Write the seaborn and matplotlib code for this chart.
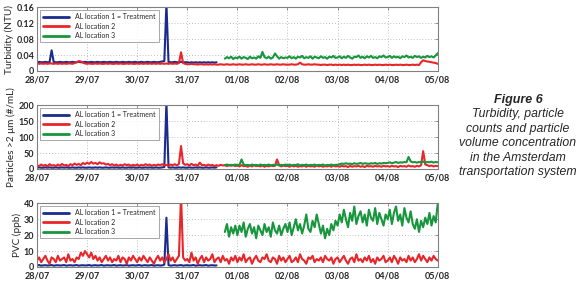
import pandas as pd
import seaborn as sns
import matplotlib.pyplot as plt
import matplotlib.dates as mdates

# hourly readings, rows are one day (24 h) each
START = pd.Timestamp("2009-07-28")
BLUE_START, RED_START, GREEN_START = 0, 0, 90   # first hour of each series

labels = ["AL location 1 = Treatment", "AL location 2", "AL location 3"]
colors = ["#1b2b8c", "#e8262a", "#17963d"]

# --- turbidity (NTU) ---
tur_blue = ([0.022, 0.023, 0.022, 0.022, 0.023, 0.022, 0.022, 0.052, 0.023, 0.022, 0.022, 0.023, 0.022, 0.022, 0.023, 0.022, 0.022, 0.023, 0.022, 0.022, 0.023, 0.022, 0.022, 0.023]
            + [0.022, 0.022, 0.023, 0.022, 0.022, 0.023, 0.022, 0.022, 0.023, 0.022, 0.022, 0.023, 0.022, 0.022, 0.023, 0.022, 0.022, 0.023, 0.022, 0.022, 0.023, 0.022, 0.022, 0.023]
            + [0.022, 0.022, 0.023, 0.022, 0.022, 0.023, 0.022, 0.022, 0.023, 0.022, 0.022, 0.023, 0.024, 0.025, 0.170, 0.023, 0.022, 0.022, 0.023, 0.022, 0.022, 0.023, 0.022, 0.022]
            + [0.022, 0.021, 0.022, 0.021, 0.022, 0.021, 0.022, 0.021, 0.022, 0.021, 0.022, 0.021, 0.022, 0.021, 0.022])
tur_red = ([0.019, 0.018, 0.019, 0.018, 0.019, 0.018, 0.019, 0.019, 0.018, 0.019, 0.018, 0.019, 0.018, 0.019, 0.018, 0.019, 0.019, 0.018, 0.020, 0.022, 0.025, 0.024, 0.021, 0.019]
           + [0.018, 0.019, 0.018, 0.018, 0.019, 0.018, 0.019, 0.018, 0.018, 0.019, 0.018, 0.019, 0.018, 0.018, 0.019, 0.018, 0.019, 0.018, 0.018, 0.019, 0.018, 0.019, 0.018, 0.018]
           + [0.019, 0.018, 0.019, 0.018, 0.019, 0.018, 0.019, 0.018, 0.019, 0.018, 0.019, 0.018, 0.019, 0.018, 0.019, 0.018, 0.019, 0.018, 0.019, 0.018, 0.020, 0.047, 0.020, 0.018]
           + [0.017, 0.017, 0.018, 0.017, 0.017, 0.016, 0.017, 0.017, 0.016, 0.017, 0.016, 0.017, 0.016, 0.017, 0.016, 0.016, 0.017, 0.016, 0.016, 0.017, 0.016, 0.016, 0.017, 0.016]
           + [0.016, 0.017, 0.016, 0.016, 0.017, 0.016, 0.016, 0.017, 0.016, 0.016, 0.017, 0.016, 0.016, 0.017, 0.016, 0.016, 0.017, 0.016, 0.016, 0.017, 0.016, 0.016, 0.017, 0.016]
           + [0.016, 0.016, 0.017, 0.016, 0.016, 0.017, 0.021, 0.017, 0.016, 0.016, 0.017, 0.016, 0.016, 0.017, 0.016, 0.016, 0.015, 0.016, 0.016, 0.015, 0.016, 0.016, 0.015, 0.016]
           + [0.015, 0.016, 0.015, 0.016, 0.015, 0.016, 0.015, 0.015, 0.016, 0.015, 0.016, 0.015, 0.015, 0.016, 0.015, 0.016, 0.015, 0.015, 0.016, 0.015, 0.016, 0.015, 0.015, 0.016]
           + [0.015, 0.016, 0.015, 0.015, 0.016, 0.015, 0.016, 0.015, 0.015, 0.016, 0.015, 0.015, 0.016, 0.015, 0.016, 0.015, 0.022, 0.027, 0.025, 0.024, 0.023, 0.022, 0.021, 0.020]
           + [0.018])
tur_green = ([0.031, 0.035, 0.032, 0.036, 0.030, 0.034]
             + [0.032, 0.036, 0.031, 0.035, 0.033, 0.030, 0.036, 0.032, 0.034, 0.031, 0.037, 0.033, 0.048, 0.035, 0.032, 0.036, 0.031, 0.034, 0.044, 0.037, 0.031, 0.035, 0.032, 0.034]
             + [0.033, 0.037, 0.032, 0.035, 0.031, 0.036, 0.034, 0.038, 0.032, 0.035, 0.033, 0.037, 0.031, 0.036, 0.034, 0.032, 0.037, 0.033, 0.035, 0.031, 0.036, 0.034, 0.038, 0.033]
             + [0.034, 0.037, 0.032, 0.036, 0.033, 0.038, 0.034, 0.031, 0.036, 0.035, 0.039, 0.033, 0.036, 0.032, 0.037, 0.034, 0.038, 0.033, 0.035, 0.032, 0.037, 0.035, 0.039, 0.034]
             + [0.035, 0.038, 0.033, 0.037, 0.034, 0.036, 0.032, 0.037, 0.035, 0.039, 0.034, 0.036, 0.033, 0.038, 0.035, 0.037, 0.033, 0.036, 0.034, 0.038, 0.035, 0.037, 0.034, 0.039]
             + [0.045])

# --- particles > 2 um (#/mL) ---
par_blue = ([4, 5, 4, 4, 5, 4, 5, 4, 4, 5, 4, 4, 5, 4, 5, 4, 4, 5, 4, 4, 5, 4, 5, 4]
            + [4, 5, 4, 4, 5, 4, 5, 4, 4, 5, 4, 4, 5, 4, 5, 4, 4, 5, 4, 4, 5, 4, 5, 4]
            + [4, 5, 4, 4, 5, 4, 5, 4, 4, 5, 4, 4, 5, 6, 210, 5, 4, 5, 4, 4, 5, 4, 5, 4]
            + [4, 5, 4, 4, 5, 4, 5, 4, 4, 5, 4, 4, 5, 4, 5])
par_red = ([12, 9, 14, 10, 13, 8, 15, 11, 12, 9, 14, 10, 16, 11, 13, 9, 15, 12, 17, 13, 16, 12, 19, 15]
           + [20, 16, 22, 17, 19, 15, 21, 17, 18, 14, 16, 12, 15, 11, 14, 10, 13, 11, 15, 12, 14, 10, 13, 11]
           + [14, 10, 13, 11, 15, 12, 14, 10, 13, 11, 14, 12, 15, 11, 13, 10, 14, 12, 15, 11, 16, 72, 18, 13]
           + [15, 11, 16, 12, 14, 10, 20, 12, 13, 10, 14, 11, 13, 9, 12, 10, 13, 11, 12, 9, 13, 10, 12, 9]
           + [11, 8, 12, 9, 10, 7, 11, 8, 12, 9, 10, 8, 11, 7, 10, 8, 11, 9, 10, 30, 12, 8, 11, 9]
           + [10, 7, 11, 8, 10, 7, 9, 8, 11, 7, 10, 8, 9, 7, 11, 8, 10, 7, 9, 8, 10, 7, 11, 8]
           + [9, 7, 10, 8, 9, 6, 10, 7, 9, 8, 10, 7, 9, 6, 10, 8, 9, 7, 10, 8, 9, 7, 10, 8]
           + [9, 7, 10, 8, 9, 6, 10, 8, 9, 7, 11, 8, 9, 7, 10, 8, 12, 56, 14, 12, 9, 11, 8, 10]
           + [9])
par_green = ([12, 14, 11, 13, 12, 14]
             + [12, 13, 30, 14, 12, 13, 11, 14, 12, 13, 11, 14, 12, 13, 12, 14, 11, 13, 12, 14, 11, 13, 12, 14]
             + [12, 14, 11, 13, 12, 15, 11, 13, 12, 14, 11, 13, 12, 14, 11, 13, 12, 14, 11, 13, 12, 14, 12, 13]
             + [13, 15, 17, 16, 18, 16, 17, 15, 18, 16, 17, 19, 16, 18, 17, 16, 18, 17, 19, 16, 18, 17, 19, 18]
             + [19, 21, 18, 20, 22, 19, 21, 20, 22, 21, 38, 24, 21, 22, 20, 22, 21, 23, 20, 22, 21, 23, 20, 22]
             + [21])

# --- PVC (ppb) ---
pvc_blue = ([1.0, 1.2, 0.8, 1.0, 1.1, 0.9, 1.0, 1.2, 0.8, 1.0, 1.1, 0.9, 1.0, 1.2, 0.8, 1.0, 1.1, 0.9, 1.0, 1.2, 0.8, 1.0, 1.1, 0.9]
            + [1.0, 1.2, 0.8, 1.0, 1.1, 0.9, 1.0, 1.2, 0.8, 1.0, 1.1, 0.9, 1.0, 1.2, 0.8, 1.0, 1.1, 0.9, 1.0, 1.2, 0.8, 1.0, 1.1, 0.9]
            + [1.0, 1.2, 0.8, 1.0, 1.1, 0.9, 1.0, 1.2, 0.8, 1.0, 1.1, 0.9, 1.0, 1.5, 31.0, 1.2, 0.8, 1.0, 1.1, 0.9, 1.0, 1.2, 0.8, 1.0]
            + [1.1, 0.9, 1.0, 1.2, 0.8, 1.0, 1.1, 0.9, 1.0, 1.2, 0.8, 1.0, 1.1, 0.9, 1.0])
pvc_red = ([4, 6, 3, 5, 7, 4, 2, 6, 5, 3, 7, 4, 5, 6, 3, 8, 4, 5, 3, 6, 5, 9, 7, 10]
           + [8, 6, 9, 5, 7, 4, 6, 3, 5, 7, 4, 6, 3, 5, 4, 7, 3, 6, 5, 2, 6, 4, 7, 5]
           + [3, 6, 4, 7, 5, 3, 6, 4, 2, 5, 7, 4, 6, 3, 5, 8, 4, 6, 3, 5, 7, 45, 6, 4]
           + [5, 3, 9, 4, 6, 2, 5, 7, 3, 6, 4, 5, 8, 3, 5, 6, 3, 7, 4, 5, 2, 6, 4, 7]
           + [3, 6, 4, 8, 3, 5, 6, 2, 5, 7, 4, 3, 6, 5, 8, 4, 3, 6, 5, 2, 7, 4, 6, 3]
           + [5, 7, 3, 4, 6, 3, 8, 5, 4, 2, 6, 5, 7, 3, 5, 4, 6, 3, 7, 5, 4, 6, 2, 5]
           + [6, 3, 5, 7, 4, 2, 5, 6, 3, 8, 4, 5, 3, 6, 4, 7, 3, 5, 2, 6, 4, 5, 7, 3]
           + [4, 6, 3, 7, 5, 2, 6, 4, 5, 3, 7, 4, 6, 3, 5, 8, 4, 7, 5, 3, 6, 4, 7, 5]
           + [4])
pvc_green = ([22, 27, 19, 25, 21, 26]
             + [20, 26, 22, 28, 19, 24, 27, 21, 25, 18, 26, 23, 20, 27, 22, 25, 19, 28, 23, 21, 26, 20, 24, 27]
             + [22, 28, 20, 25, 30, 23, 27, 21, 26, 33, 24, 22, 29, 25, 33, 27, 21, 26, 18, 24, 20, 27, 23, 29]
             + [26, 33, 28, 36, 30, 25, 34, 29, 38, 27, 32, 35, 28, 33, 26, 36, 31, 29, 37, 27, 34, 30, 26, 33]
             + [30, 36, 27, 34, 38, 29, 33, 26, 37, 31, 28, 35, 27, 24, 30, 22, 29, 25, 31, 27, 34, 26, 32, 28]
             + [40])

panels = [
    ("Turbidity (NTU)", [tur_blue, tur_red, tur_green], [0, 0.04, 0.08, 0.12, 0.16], ["0", "0.04", "0.08", "0.12", "0.16"]),
    ("Particles >2 \u03bcm (#/mL)", [par_blue, par_red, par_green], [0, 50, 100, 150, 200], ["0", "50", "100", "150", "200"]),
    ("PVC (ppb)", [pvc_blue, pvc_red, pvc_green], [0, 10, 20, 30, 40], ["0", "10", "20", "30", "40"]),
]
caption_title = "Figure 6"
caption_lines = ["Turbidity, particle", "counts and particle", "volume concentration",
                 "in the Amsterdam", "transportation system"]


def to_frame(values, first_hour):
    hours = pd.to_timedelta([first_hour + i for i in range(len(values))], unit="h")
    return pd.DataFrame({"time": START + hours, "value": values})


sns.set_style("white")
plt.rcParams["font.family"] = ["Lato", "DejaVu Sans"]

fig = plt.figure(figsize=(5.8, 2.84), dpi=100)
bottoms = [0.750, 0.405, 0.060]

for (ylabel, series, yt, ytl), bottom in zip(panels, bottoms):
    ax = fig.add_axes([0.0638, bottom, 0.691, 0.224])
    for vals, first, col, lab in zip(series, [BLUE_START, RED_START, GREEN_START], colors, labels):
        sns.lineplot(data=to_frame(vals, first), x="time", y="value", ax=ax,
                     color=col, lw=1.5, label=lab, estimator=None)
    ax.set_xlim(START, START + pd.Timedelta(days=8))
    ax.set_ylim(yt[0], yt[-1])
    ax.set_yticks(yt)
    ax.set_yticklabels(ytl)
    ax.xaxis.set_major_locator(mdates.DayLocator())
    ax.xaxis.set_major_formatter(mdates.DateFormatter("%d/%m"))
    ax.set_xlabel("")
    ax.set_ylabel(ylabel, fontsize=7.2, labelpad=1.5)
    ax.tick_params(direction="in", length=2.5, top=True, right=True, width=0.6,
                   color="#808080", labelsize=6.5, pad=2)
    ax.tick_params(axis="x", pad=3.5)
    for t in ax.get_xticklabels() + ax.get_yticklabels():
        t.set_fontweight("bold")
    ax.grid(True, linestyle=(0, (1, 2.5)), color="#a8a8a8", lw=0.6)
    for s in ax.spines.values():
        s.set_color("#808080")
        s.set_linewidth(0.8)
    leg = ax.legend(loc="upper left", fontsize=5, handlelength=3.8, frameon=True,
                    fancybox=False, edgecolor="#808080", borderaxespad=0.4,
                    labelspacing=0.35, borderpad=0.45, handletextpad=0.8)
    leg.get_frame().set_linewidth(0.6)
    for h in leg.get_lines():
        h.set_linewidth(2)

fig.text(0.893, 1 - 100 / 284, caption_title, ha="center", va="center",
         fontsize=9, fontweight="bold", fontstyle="italic", family="Liberation Sans")
for i, line in enumerate(caption_lines):
    fig.text(0.893, 1 - (114 + i * 14.6) / 284, line, ha="center", va="center",
             fontsize=8.8, fontstyle="italic", family="Liberation Sans")

fig.savefig("out.png", dpi=100)
